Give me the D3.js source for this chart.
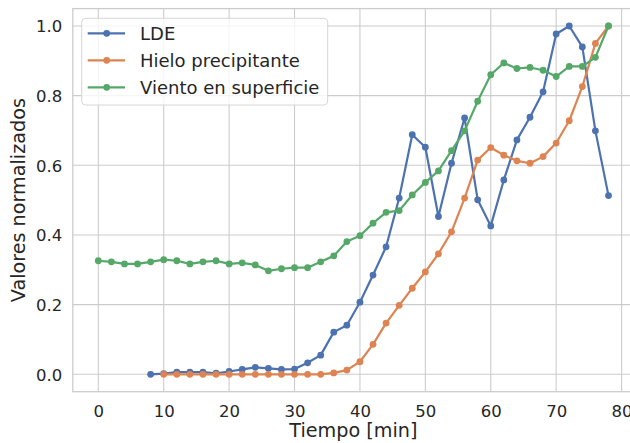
<!DOCTYPE html>
<html>
<head>
<meta charset="utf-8">
<script src="https://cdn.jsdelivr.net/npm/d3@7"></script>
<style>
  body { margin: 0; background: #fff; }
  text { font-family: "DejaVu Sans", sans-serif; fill: #262626; }
</style>
</head>
<body>
<div id="root"></div>
<script>
// tiempo en minutos, un valor cada 2 min
const seriesNames = ['LDE', 'Hielo precipitante', 'Viento en superficie'];
const seriesColors = ['#4c72b0', '#dd8452', '#55a868'];

const tLde = d3.range(8, 80, 2);
const lde = [0.0, 0.002, 0.006, 0.006, 0.006, 0.003, 0.008, 0.014, 0.020, 0.017,
  0.014, 0.015, 0.033, 0.055, 0.121, 0.141, 0.207, 0.285, 0.366, 0.506,
  0.688, 0.652, 0.453, 0.606, 0.736, 0.501, 0.426, 0.558, 0.673, 0.738,
  0.811, 0.977, 1.0, 0.940, 0.699, 0.513];

const tHielo = d3.range(10, 80, 2);
const hielo = [0.0, 0.0, 0.0, 0.0, 0.0, 0.0, 0.0, 0.0, 0.0, 0.0,
  0.0, 0.0, 0.0, 0.004, 0.012, 0.036, 0.086, 0.147, 0.198, 0.247,
  0.294, 0.346, 0.409, 0.506, 0.615, 0.651, 0.629, 0.613, 0.606, 0.625,
  0.664, 0.728, 0.826, 0.950, 1.0];

const tViento = d3.range(0, 80, 2);
const viento = [0.326, 0.323, 0.317, 0.317, 0.323, 0.329, 0.326, 0.317, 0.323, 0.326,
  0.317, 0.320, 0.314, 0.297, 0.303, 0.306, 0.306, 0.323, 0.340, 0.381,
  0.398, 0.434, 0.465, 0.470, 0.515, 0.551, 0.584, 0.642, 0.699, 0.784,
  0.860, 0.894, 0.878, 0.881, 0.873, 0.855, 0.884, 0.884, 0.910, 1.0];

const xTicks = [0, 10, 20, 30, 40, 50, 60, 70, 80];
const yTicks = [0.0, 0.2, 0.4, 0.6, 0.8, 1.0];

const series = [
  { name: seriesNames[0], color: seriesColors[0], values: tLde.map((t, i) => [t, lde[i]]) },
  { name: seriesNames[1], color: seriesColors[1], values: tHielo.map((t, i) => [t, hielo[i]]) },
  { name: seriesNames[2], color: seriesColors[2], values: tViento.map((t, i) => [t, viento[i]]) },
];

const width = 630;
const height = 443;
const plot = { left: 72.8, top: 8.6, right: 634, bottom: 391.7 };

const svg = d3.select('#root').append('svg')
  .attr('width', width)
  .attr('height', height);

const x = d3.scaleLinear().domain([-3.9, 81.9]).range([plot.left, plot.right]);
const y = d3.scaleLinear().domain([-0.05, 1.05]).range([plot.bottom, plot.top]);

// grid
svg.append('g')
  .selectAll('line')
  .data(xTicks)
  .join('line')
  .attr('x1', d => x(d)).attr('x2', d => x(d))
  .attr('y1', plot.top).attr('y2', plot.bottom)
  .attr('stroke', '#cccccc').attr('stroke-width', 1.1);

svg.append('g')
  .selectAll('line')
  .data(yTicks)
  .join('line')
  .attr('x1', plot.left).attr('x2', plot.right)
  .attr('y1', d => y(d)).attr('y2', d => y(d))
  .attr('stroke', '#cccccc').attr('stroke-width', 1.1);

// borde de los ejes
svg.append('rect')
  .attr('x', plot.left).attr('y', plot.top)
  .attr('width', plot.right - plot.left).attr('height', plot.bottom - plot.top)
  .attr('fill', 'none').attr('stroke', '#cccccc').attr('stroke-width', 1.3);

// ticks
const xAxis = svg.append('g')
  .attr('transform', `translate(0,${plot.bottom})`)
  .call(d3.axisBottom(x).tickValues(xTicks).tickSize(0).tickPadding(0).tickFormat(d3.format('d')));
xAxis.select('.domain').remove();
xAxis.selectAll('text')
  .attr('dy', null)
  .attr('y', 25)
  .attr('font-size', '16.5px')
  .attr('font-family', '"DejaVu Sans", sans-serif');

const yAxis = svg.append('g')
  .attr('transform', `translate(${plot.left},0)`)
  .call(d3.axisLeft(y).tickValues(yTicks).tickSize(0).tickPadding(0).tickFormat(d3.format('.1f')));
yAxis.select('.domain').remove();
yAxis.selectAll('text')
  .attr('x', -10.5)
  .attr('dy', '0.36em')
  .attr('font-size', '16.5px')
  .attr('font-family', '"DejaVu Sans", sans-serif');

// etiquetas de ejes
svg.append('text')
  .attr('x', (plot.left + plot.right) / 2)
  .attr('y', 437)
  .attr('text-anchor', 'middle')
  .attr('font-size', '19.2px')
  .text('Tiempo [min]');

svg.append('text')
  .attr('transform', `translate(25,${(plot.top + plot.bottom) / 2}) rotate(-90)`)
  .attr('text-anchor', 'middle')
  .attr('font-size', '19.2px')
  .text('Valores normalizados');

// series
const line = d3.line().x(d => x(d[0])).y(d => y(d[1]));

series.forEach(s => {
  const g = svg.append('g');
  g.append('path')
    .attr('d', line(s.values))
    .attr('fill', 'none')
    .attr('stroke', s.color)
    .attr('stroke-width', 2.2)
    .attr('stroke-linejoin', 'round')
    .attr('stroke-linecap', 'round');
  g.selectAll('circle')
    .data(s.values)
    .join('circle')
    .attr('cx', d => x(d[0]))
    .attr('cy', d => y(d[1]))
    .attr('r', 3.4)
    .attr('fill', s.color);
});

// leyenda
const legend = svg.append('g').attr('transform', 'translate(81.7,18.3)');
legend.append('rect')
  .attr('width', 246).attr('height', 86.7)
  .attr('rx', 4)
  .attr('fill', 'rgba(255,255,255,0.8)')
  .attr('stroke', '#d6d6d6')
  .attr('stroke-width', 1);

const items = legend.selectAll('g.item')
  .data(series)
  .join('g')
  .attr('class', 'item')
  .attr('transform', (d, i) => `translate(0,${15 + i * 27})`);

items.append('line')
  .attr('x1', 6).attr('x2', 43.3)
  .attr('stroke', d => d.color).attr('stroke-width', 2.2);
items.append('circle')
  .attr('cx', 25).attr('r', 3.4)
  .attr('fill', d => d.color);
items.append('text')
  .attr('x', 58.3)
  .attr('dy', '0.36em')
  .attr('font-size', '18px')
  .text(d => d.name);
</script>
</body>
</html>
